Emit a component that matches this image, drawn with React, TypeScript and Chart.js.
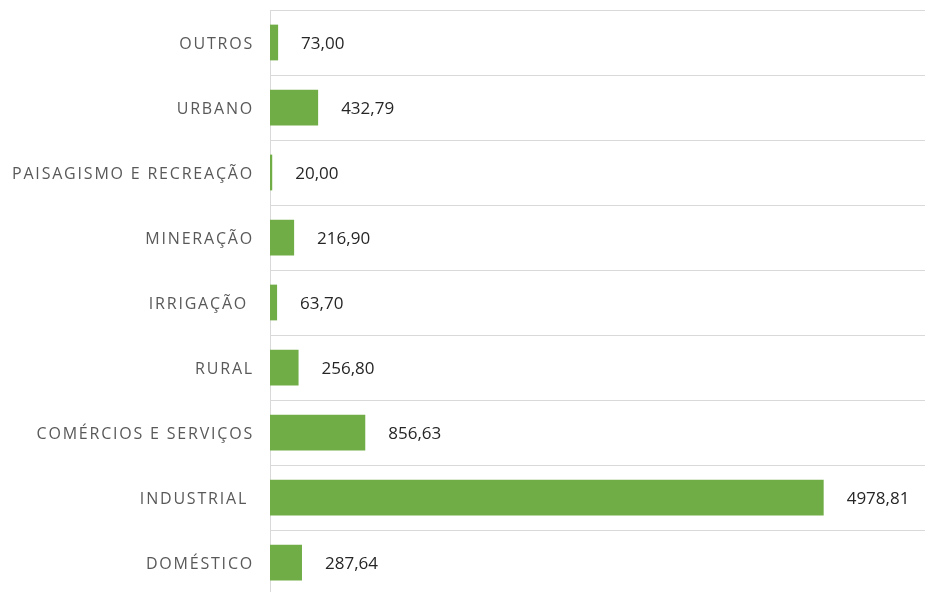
import React, { useEffect, useRef } from "react";
import { Chart, registerables } from "chart.js";

Chart.register(...registerables);

const categories = [
  "OUTROS",
  "URBANO",
  "PAISAGISMO E RECREAÇÃO",
  "MINERAÇÃO",
  "IRRIGAÇÃO ",
  "RURAL",
  "COMÉRCIOS E SERVIÇOS",
  "INDUSTRIAL ",
  "DOMÉSTICO",
];

const values = [73.0, 432.79, 20.0, 216.9, 63.7, 256.8, 856.63, 4978.81, 287.64];

const valueLabels = ["73,00", "432,79", "20,00", "216,90", "63,70", "256,80", "856,63", "4978,81", "287,64"];

const labelsPlugin = {
  id: "customLabels",
  afterDatasetsDraw(chart: any) {
    const ctx = chart.ctx;
    const yScale = chart.scales.y;
    const meta = chart.getDatasetMeta(0);
    ctx.save();
    // category labels
    ctx.font = "16px 'Open Sans'";
    ctx.fillStyle = "#595959";
    ctx.textAlign = "right";
    ctx.textBaseline = "middle";
    (ctx as any).letterSpacing = "1.8px";
    categories.forEach((c, i) => {
      const y = yScale.getPixelForValue(i);
      ctx.fillText(c, chart.chartArea.left - 16, y + 2);
    });
    // value labels
    (ctx as any).letterSpacing = "0px";
    ctx.font = "17px 'Open Sans'";
    ctx.fillStyle = "#262626";
    ctx.textAlign = "left";
    meta.data.forEach((bar: any, i: number) => {
      ctx.fillText(valueLabels[i], bar.x + 23, bar.y + 2);
    });
    ctx.restore();
  },
};

export default function App() {
  const ref = useRef<HTMLCanvasElement>(null);
  useEffect(() => {
    document.body.style.margin = "0";
    const chart = new Chart(ref.current!, {
      type: "bar",
      data: {
        labels: categories,
        datasets: [
          {
            data: values,
            backgroundColor: "#70AD47",
            borderWidth: 0,
            barPercentage: 0.55,
            categoryPercentage: 1,
          },
        ],
      },
      options: {
        indexAxis: "y",
        responsive: false,
        animation: false,
        layout: { padding: { left: 270, top: 10, right: 0, bottom: 5 } },
        plugins: { legend: { display: false }, tooltip: { enabled: false } },
        scales: {
          x: {
            display: false,
            min: 0,
            max: 5890,
          },
          y: {
            ticks: { display: false },
            grid: {
              color: "#D9D9D9",
              lineWidth: 1,
              drawTicks: false,
              tickLength: 0,
              offset: true,
            },
            border: { display: true, color: "#D9D9D9" },
          },
        },
      },
      plugins: [labelsPlugin],
    });
    return () => chart.destroy();
  }, []);
  return (
    <div style={{ width: 925, height: 600, overflow: "hidden" }}>
      <canvas ref={ref} width={925} height={600} style={{ display: "block" }} />
    </div>
  );
}
